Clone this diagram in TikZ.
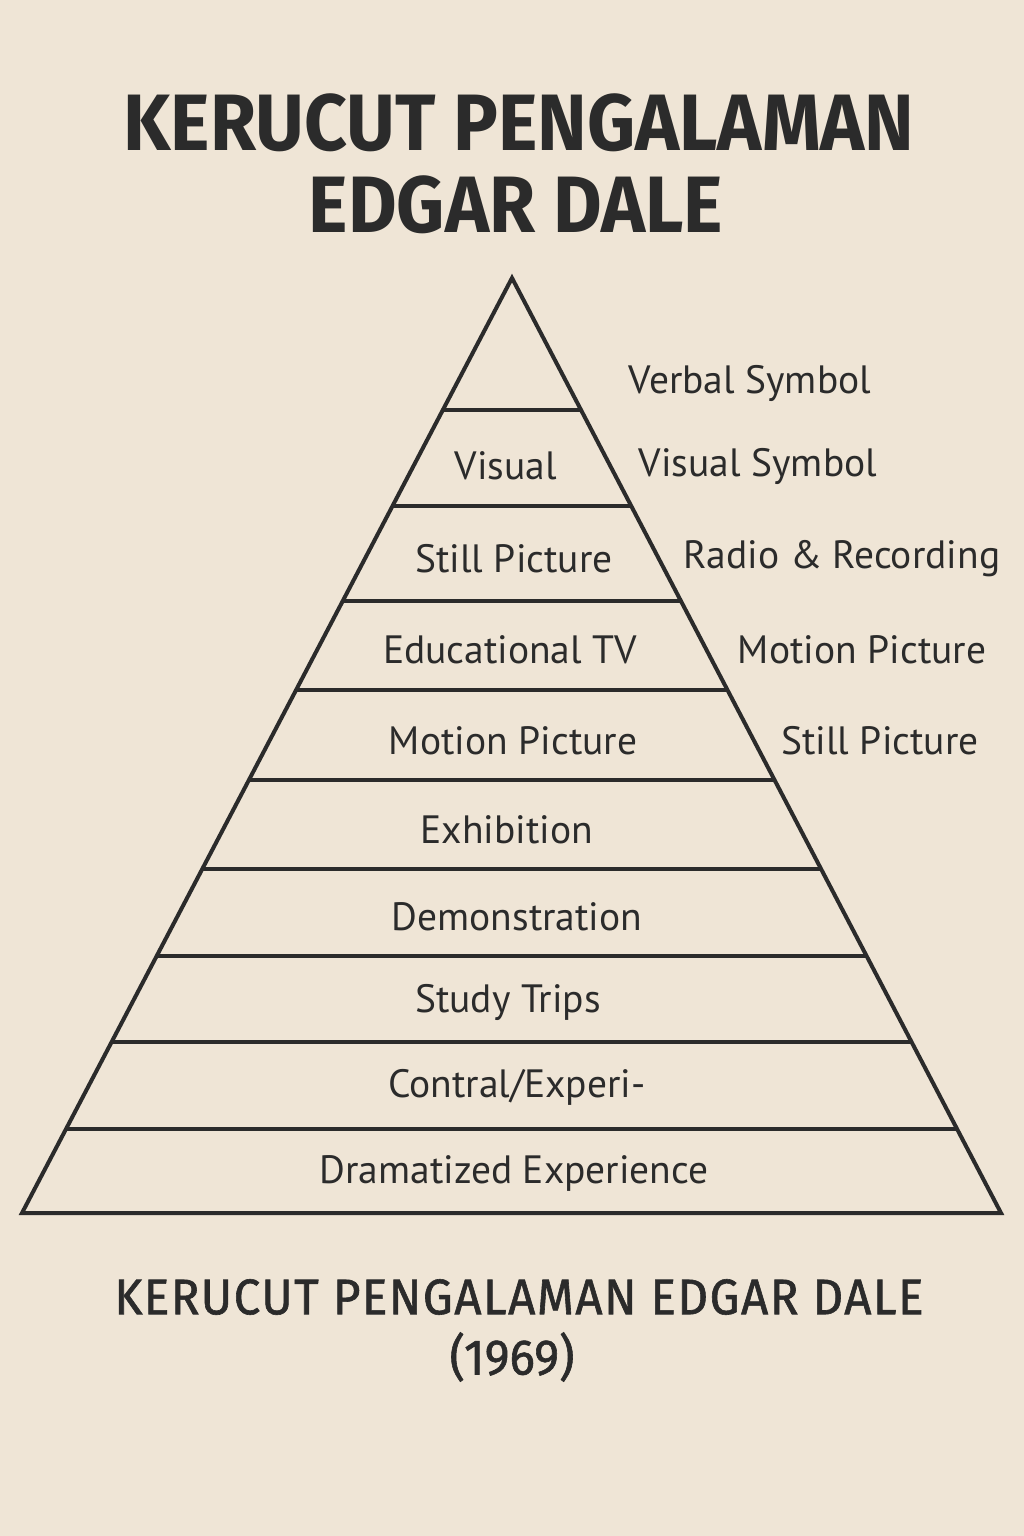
\documentclass[tikz,border=0pt]{standalone}
\usepackage{fontspec}
\setmainfont{PT Sans}
\newfontfamily\titlefont[FakeStretch=0.935]{Fira Sans}
\newfontfamily\subfont[FakeStretch=0.95,FakeBold=1.2]{Fira Sans}
\usetikzlibrary{calc}
\definecolor{bg}{HTML}{EFE5D6}
\definecolor{ink}{HTML}{2B2B2B}
\tikzset{
  lbl/.style={text=ink, font=\fontsize{39.5}{42}\selectfont, inner sep=0pt, anchor=center},
  ttl/.style={text=ink, font=\titlefont\bfseries\fontsize{80}{84}\selectfont, inner sep=0pt},
  sub/.style={text=ink, font=\subfont\fontsize{50}{56}\selectfont, inner sep=0pt},
  edge/.style={draw=ink, line width=4pt, line join=miter}
}
\begin{document}
\begin{tikzpicture}[x=1pt,y=-1pt]
\fill[bg] (0,0) rectangle (1024,1536);
\useasboundingbox (0,0) rectangle (1024,1536);
% title
\node[ttl] (t1) at (519,123) {KERUCUT PENGALAMAN};
\node[ttl] (t2) at (516,205) {EDGAR DALE};
% pyramid
\coordinate (A) at (512,278);
\coordinate (BL) at (22,1213);
\coordinate (BR) at (1001,1213);
\draw[edge] (A) -- (BL) -- (BR) -- cycle;
\foreach \yy in {410,506,601,690,780,869,956,1042,1129}{
  \draw[edge] ($(A)!{(\yy-278)/935}!(BL)$) -- ($(A)!{(\yy-278)/935}!(BR)$);
}
% inner labels
\node[lbl] (l1) at (506,466) {Visual};
\node[lbl] (l2) at (514,559) {Still Picture};
\node[lbl] (l3) at (510,650) {Educational TV};
\node[lbl] (l4) at (513,741) {Motion Picture};
\node[lbl] (l5) at (507,830) {Exhibition};
\node[lbl] (l6) at (517,917) {Demonstration};
\node[lbl] (l7) at (508,1002) {Study Trips};
\node[lbl] (l8) at (517,1087) {Contral/Experi-};
\node[lbl] (l9) at (514,1173) {Dramatized Experience};
% right labels
\node[lbl] (r1) at (750,383) {Verbal Symbol};
\node[lbl] (r2) at (758,466) {Visual Symbol};
\node[lbl] (r3) at (842,559) {Radio \& Recording};
\node[lbl] (r4) at (862,650) {Motion Picture};
\node[lbl] (r5) at (880,741) {Still Picture};
% bottom caption
\node[sub] (s1) at (519,1297) {\addfontfeature{LetterSpace=3}KERUCUT PENGALAMAN EDGAR DALE};
\node[sub] (s2) at (512,1357) {(1969)};
\end{tikzpicture}
\end{document}
